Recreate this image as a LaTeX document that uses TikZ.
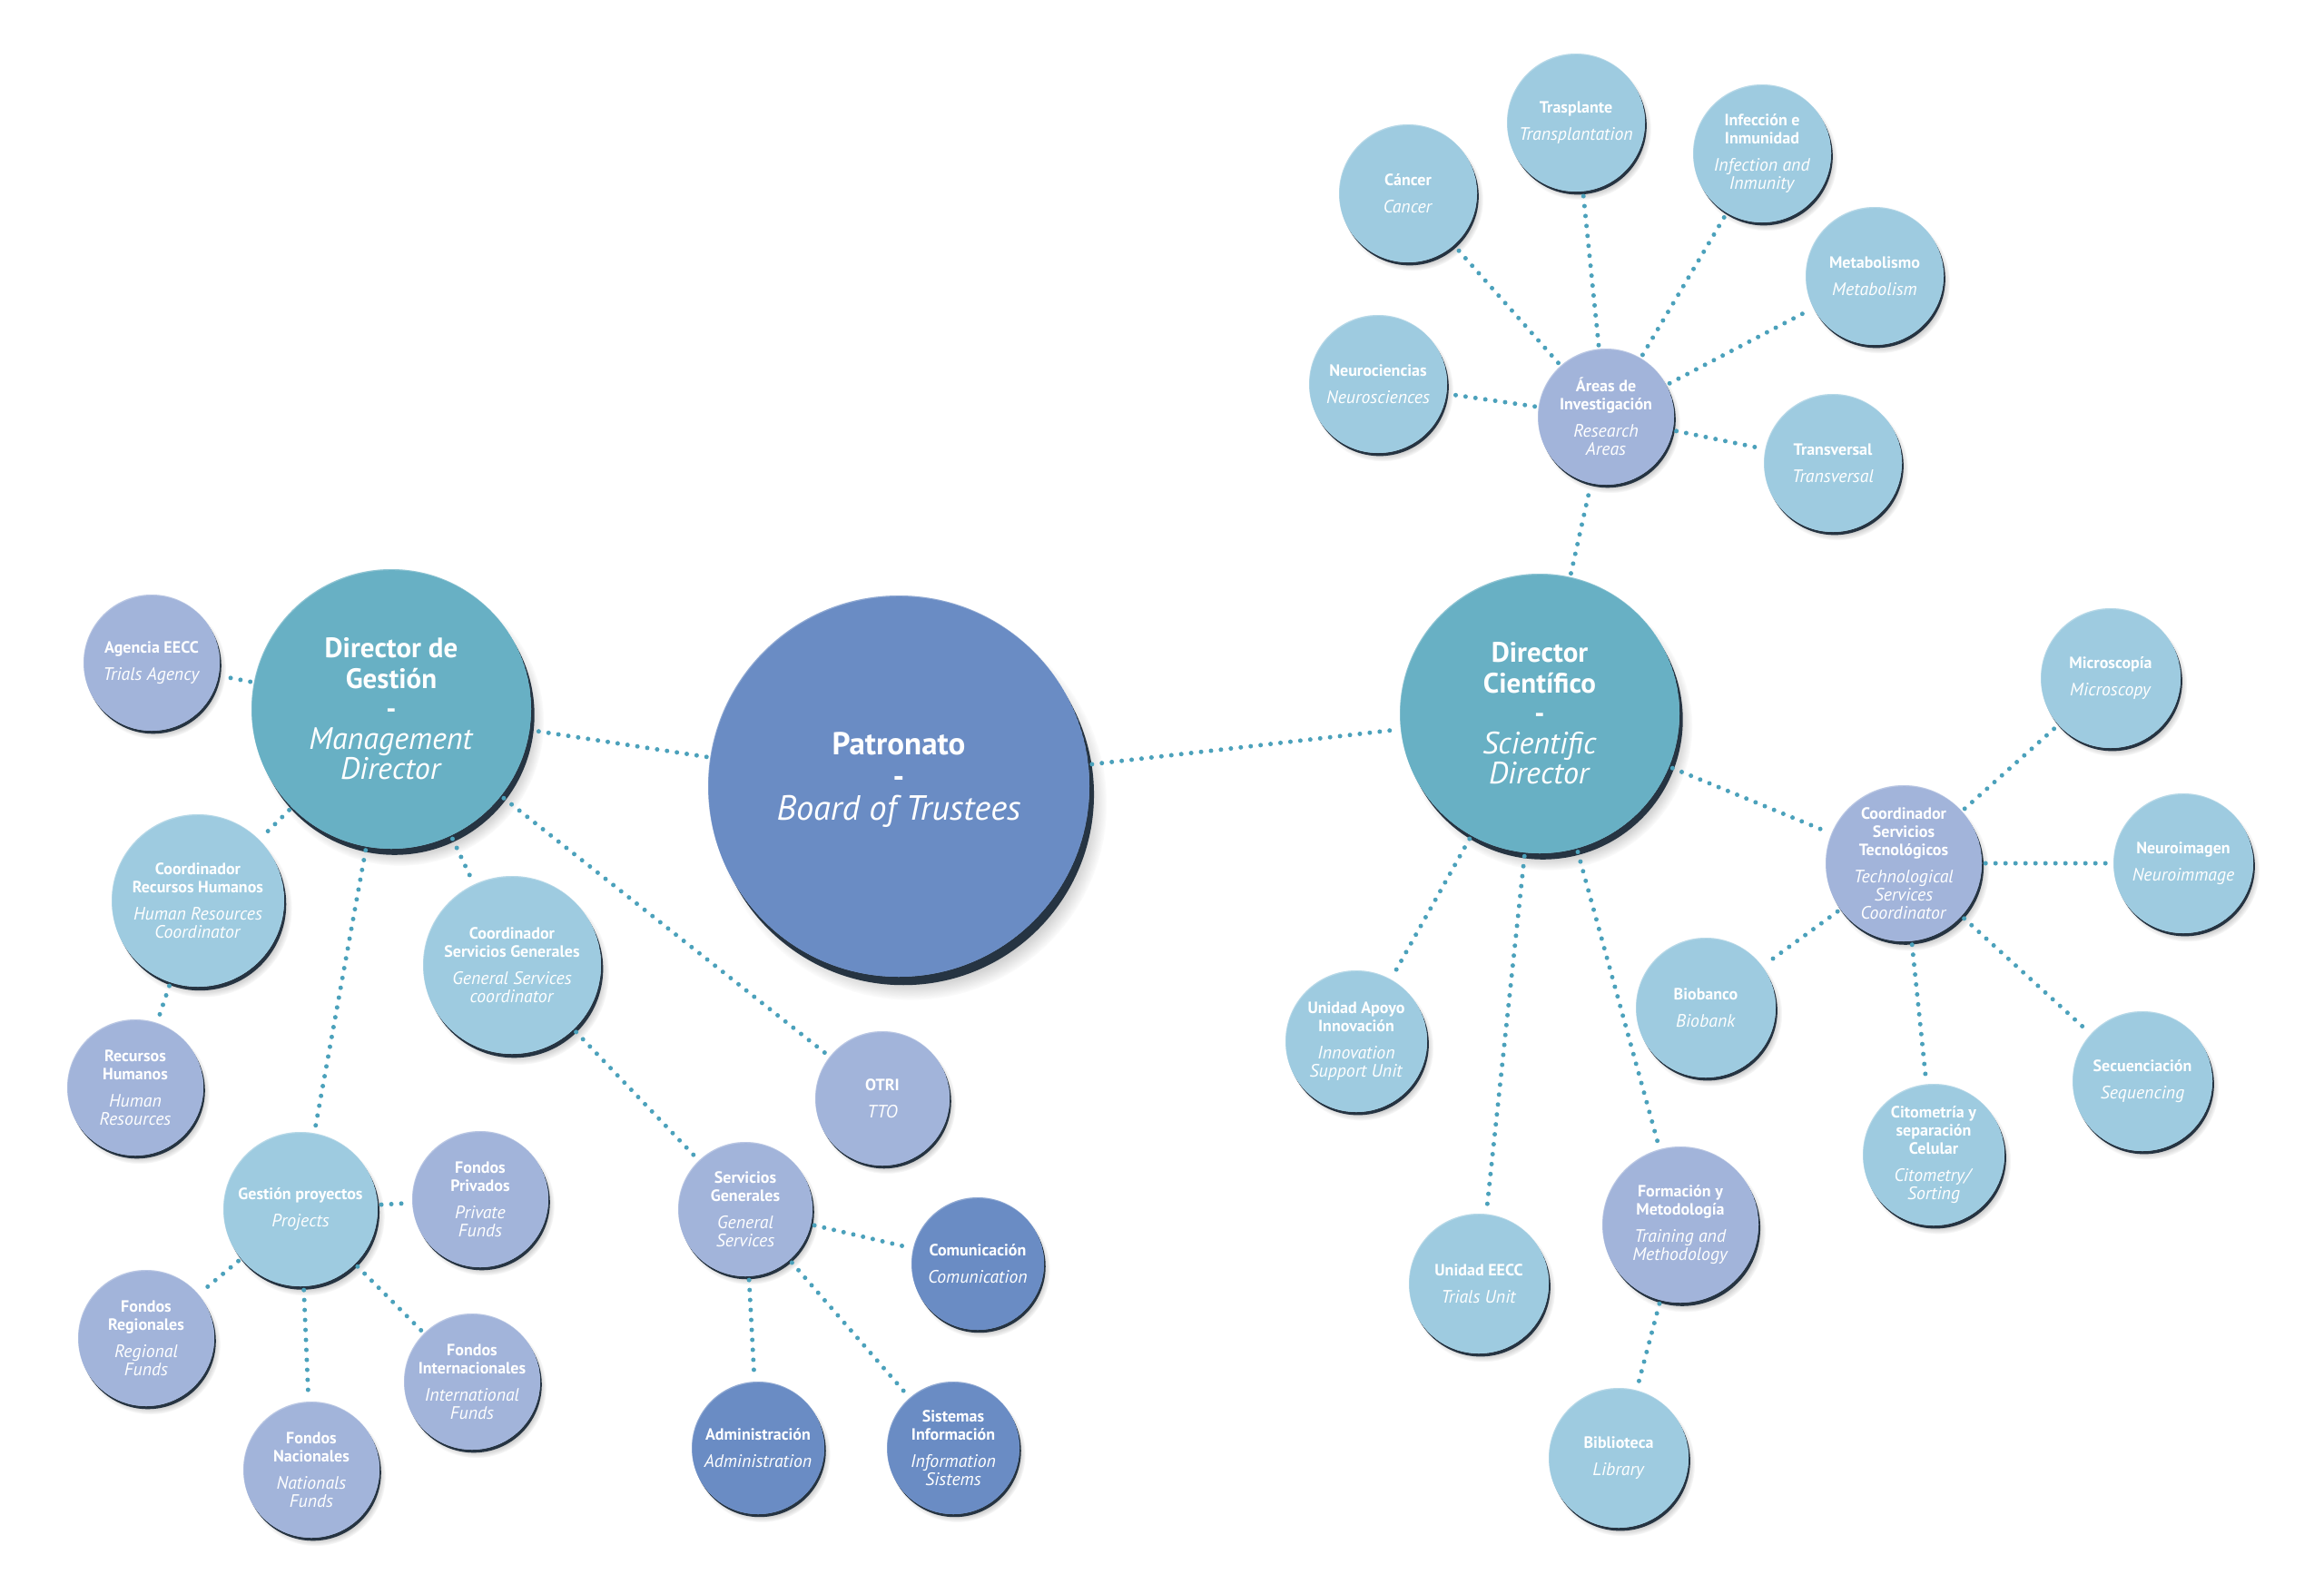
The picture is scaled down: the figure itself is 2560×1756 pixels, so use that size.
\documentclass[tikz,border=0pt]{standalone}
\usepackage{fontspec}
\setmainfont{PT Sans}[ItalicFeatures={Scale=1.1}]
\usetikzlibrary{shadows}
\definecolor{aa}{RGB}{106, 140, 196}
\definecolor{bb}{RGB}{104, 176, 196}
\definecolor{cc}{RGB}{158, 203, 224}
\definecolor{dd}{RGB}{162, 180, 218}
\definecolor{ee}{RGB}{75, 161, 187}
\definecolor{ff}{RGB}{38, 52, 66}
\newcommand{\es}[1]{\textbf{#1}}
\newcommand{\en}[1]{\textit{#1}}

\begin{document}
\begin{tikzpicture}[x=1pt, y=-1pt,
bub/.style n args={2}{circle, inner sep=0pt, minimum size=#2pt, fill=#1, text=white, align=center,
  circular drop shadow={fill=black, opacity=0.3, shadow scale=1.03, shadow xshift={#2*0.03pt}, shadow yshift={-#2*0.045pt}},
  general shadow={fill=ff, shadow xshift={#2*0.012pt}, shadow yshift={-#2*0.022pt}},
  path picture={\fill [white, opacity=0.25] (path picture bounding box.center) circle ({#2/2});
    \fill [#1] ([shift={(0.6,1.2)}]path picture bounding box.center) circle ({#2/2});}},
sm/.style={font=\fontsize{18}{20}\selectfont},
lg/.style={font=\fontsize{31}{33.5}\selectfont},
dl/.style={ee, line width=5pt, line cap=round, dash pattern=on 0pt off 11pt, shorten <=4pt, shorten >=4pt}]
\fill [white] (0,0) rectangle (2560,1756);
\useasboundingbox (0,0) rectangle (2560,1756);
\node (1) [bub={aa}{420}, font=\fontsize{35}{36}\selectfont] at (990, 866) {\es{Patronato}\\\es{-}\\\en{Board of Trustees}\\[-14pt]\mbox{}};
\node (2) [bub={bb}{308}, lg] at (431, 781) {\es{Director de}\\\es{Gestión}\\\es{-}\\\en{Management}\\\en{Director}};
\node (3) [bub={bb}{308}, lg] at (1696, 786) {\es{Director}\\\es{Científico}\\\es{-}\\\en{Scientific}\\\en{Director}};
\node (4) [bub={dd}{150}, sm] at (167, 730) {\es{Agencia EECC}\\[10pt]\en{Trials Agency}};
\node (5) [bub={cc}{190}, sm] at (218, 992) {\es{Coordinador}\\\es{Recursos Humanos}\\[10pt]\en{Human Resources}\\\en{Coordinator}};
\node (6) [bub={dd}{150}, sm] at (149, 1198) {\es{Recursos}\\\es{Humanos}\\[10pt]\en{Human}\\\en{Resources}};
\node (7) [bub={cc}{196}, sm] at (564, 1063) {\es{Coordinador}\\\es{Servicios Generales}\\[10pt]\en{General Services}\\\en{coordinator}};
\node (8) [bub={cc}{170}, sm] at (331, 1332) {\es{Gestión proyectos}\\[10pt]\en{Projects}};
\node (9) [bub={dd}{150}, sm] at (529, 1321) {\es{Fondos}\\\es{Privados}\\[10pt]\en{Private}\\\en{Funds}};
\node (10) [bub={dd}{150}, sm] at (161, 1474) {\es{Fondos}\\\es{Regionales}\\[10pt]\en{Regional}\\\en{Funds}};
\node (11) [bub={dd}{150}, sm] at (343, 1619) {\es{Fondos}\\\es{Nacionales}\\[10pt]\en{Nationals}\\\en{Funds}};
\node (12) [bub={dd}{150}, sm] at (520, 1522) {\es{Fondos}\\\es{Internacionales}\\[10pt]\en{International}\\\en{Funds}};
\node (13) [bub={dd}{148}, sm] at (821, 1332) {\es{Servicios}\\\es{Generales}\\[10pt]\en{General}\\\en{Services}};
\node (14) [bub={dd}{148}, sm] at (972, 1210) {\es{OTRI}\\[10pt]\en{TTO}};
\node (15) [bub={aa}{146}, sm] at (1077, 1392) {\es{Comunicación}\\[10pt]\en{Comunication}};
\node (16) [bub={aa}{146}, sm] at (835, 1595) {\es{Administración}\\[10pt]\en{Administration}};
\node (17) [bub={aa}{146}, sm] at (1050, 1595) {\es{Sistemas}\\\es{Información}\\[10pt]\en{Information}\\\en{Sistems}};
\node (18) [bub={dd}{150}, sm] at (1769, 459) {\es{Áreas de}\\\es{Investigación}\\[10pt]\en{Research}\\\en{Areas}};
\node (19) [bub={cc}{152}, sm] at (1551, 213) {\es{Cáncer}\\[10pt]\en{Cancer}};
\node (20) [bub={cc}{152}, sm] at (1736, 135) {\es{Trasplante}\\[10pt]\en{Transplantation}};
\node (21) [bub={cc}{152}, sm] at (1941, 169) {\es{Infección e}\\\es{Inmunidad}\\[10pt]\en{Infection and}\\\en{Inmunity}};
\node (22) [bub={cc}{152}, sm] at (2065, 304) {\es{Metabolismo}\\[10pt]\en{Metabolism}};
\node (23) [bub={cc}{152}, sm] at (1518, 423) {\es{Neurociencias}\\[10pt]\en{Neurosciences}};
\node (24) [bub={cc}{152}, sm] at (2019, 510) {\es{Transversal}\\[10pt]\en{Transversal}};
\node (25) [bub={dd}{172}, sm] at (2097, 951) {\es{Coordinador}\\\es{Servicios}\\\es{Tecnológicos}\\[10pt]\en{Technological}\\\en{Services}\\\en{Coordinator}};
\node (26) [bub={cc}{154}, sm] at (2325, 747) {\es{Microscopía}\\[10pt]\en{Microscopy}};
\node (27) [bub={cc}{154}, sm] at (2405, 951) {\es{Neuroimagen}\\[10pt]\en{Neuroimmage}};
\node (28) [bub={cc}{154}, sm] at (2360, 1191) {\es{Secuenciación}\\[10pt]\en{Sequencing}};
\node (29) [bub={cc}{156}, sm] at (2130, 1272) {\es{Citometría y}\\\es{separación}\\\es{Celular}\\[10pt]\en{Citometry/}\\\en{Sorting}};
\node (30) [bub={cc}{154}, sm] at (1879, 1110) {\es{Biobanco}\\[10pt]\en{Biobank}};
\node (31) [bub={cc}{156}, sm] at (1494, 1147) {\es{Unidad Apoyo}\\\es{Innovación}\\[10pt]\en{Innovation}\\\en{Support Unit}};
\node (32) [bub={cc}{154}, sm] at (1629, 1414) {\es{Unidad EECC}\\[10pt]\en{Trials Unit}};
\node (33) [bub={dd}{172}, sm] at (1851, 1349) {\es{Formación y}\\\es{Metodología}\\[10pt]\en{Training and}\\\en{Methodology}};
\node (34) [bub={cc}{154}, sm] at (1783, 1606) {\es{Biblioteca}\\[10pt]\en{Library}};
\draw [dl] (1) to (2);
\draw [dl] (1) to (3);
\draw [dl] (2) to (4);
\draw [dl] (2) to (5);
\draw [dl] (2) to (7);
\draw [dl] (2) to (8);
\draw [dl] (2) to (14);
\draw [dl] (5) to (6);
\draw [dl] (7) to (13);
\draw [dl] (13) to (15);
\draw [dl] (13) to (16);
\draw [dl] (13) to (17);
\draw [dl] (8) to (9);
\draw [dl] (8) to (10);
\draw [dl] (8) to (11);
\draw [dl] (8) to (12);
\draw [dl] (3) to (18);
\draw [dl] (3) to (25);
\draw [dl] (3) to (31);
\draw [dl] (3) to (32);
\draw [dl] (3) to (33);
\draw [dl] (18) to (19);
\draw [dl] (18) to (20);
\draw [dl] (18) to (21);
\draw [dl] (18) to (22);
\draw [dl] (18) to (23);
\draw [dl] (18) to (24);
\draw [dl] (25) to (26);
\draw [dl] (25) to (27);
\draw [dl] (25) to (28);
\draw [dl] (25) to (29);
\draw [dl] (25) to (30);
\draw [dl] (33) to (34);
\end{tikzpicture}
\end{document}
